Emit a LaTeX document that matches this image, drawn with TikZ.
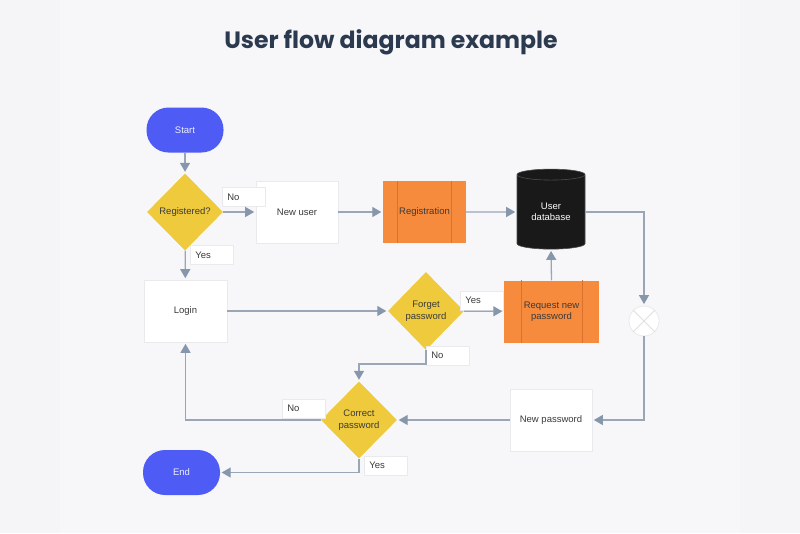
\documentclass[tikz,border=0pt]{standalone}
\usepackage{fontspec}
\setmainfont{Liberation Sans}
\newfontfamily\titlefont{Poppins}
\usetikzlibrary{arrows.meta,shapes.geometric,calc}
\definecolor{bgout}{HTML}{F5F5F8}
\definecolor{bgin}{HTML}{F7F7FA}
\definecolor{startblue}{HTML}{4F5BF5}
\definecolor{diayellow}{HTML}{EFCA3D}
\definecolor{regorange}{HTML}{F68B3E}
\definecolor{regline}{HTML}{D9722E}
\definecolor{linecol}{HTML}{9AA6B6}
\definecolor{tipcol}{HTML}{8797AB}
\definecolor{txt}{HTML}{3A3A3A}
\definecolor{titlecol}{HTML}{2C3A4F}
\definecolor{boxborder}{HTML}{E9E9EE}
\tikzset{
  every node/.style={font=\fontsize{9.5}{11.5}\selectfont, text=txt, align=center},
  terminal/.style={fill=startblue, rounded corners=22pt, minimum width=77pt, minimum height=45pt, text=white!90!startblue, inner sep=0pt},
  whitebox/.style={fill=white, draw=boxborder, line width=0.6pt, minimum width=82pt, minimum height=62pt, inner sep=0pt},
  orangebox/.style={fill=regorange, minimum height=62pt, inner sep=0pt},
  decision/.style={diamond, fill=diayellow, minimum width=76pt, minimum height=77pt, inner sep=0pt, aspect=1},
  lbl/.style={fill=white, draw=boxborder, line width=0.6pt, minimum width=43pt, minimum height=19pt, inner sep=0pt, text=txt, anchor=west, text width=33pt, align=left},
  flow/.style={draw=linecol, line width=1.3pt, -{Triangle[width=10pt,length=9pt,color=tipcol]}, shorten >=1.5pt},
}
\begin{document}
\begin{tikzpicture}[x=1pt,y=-1pt]
\fill[bgout] (0,0) rectangle (800,533);
\fill[bgin] (60,0) rectangle (740,533);
\useasboundingbox (0,0) rectangle (800,533);

\node[font=\titlefont\bfseries\fontsize{23.6}{27}\selectfont, text=titlecol] (title) at (391,42.5) {User flow diagram example};

% nodes
\node[terminal] (start) at (185,130) {Start};
\node[decision] (reg) at (185,212) {Registered?};
\node[whitebox] (newuser) at (297,212) {New user};
\node[orangebox, minimum width=83pt] (registration) at (424.5,212) {Registration};
\draw[regline, line width=0.7pt] ($(registration.north west)+(15,0)$) -- ($(registration.south west)+(15,0)$)
  ($(registration.north east)+(-15,0)$) -- ($(registration.south east)+(-15,0)$);
\node[cylinder, shape border rotate=90, aspect=0.28, minimum width=68pt, minimum height=80pt, fill=black!90, draw=black!70, line width=0.6pt, text=white, inner sep=0pt] (db) at (551,212) {User\\database};
\node[whitebox, minimum width=83pt] (login) at (185.5,311) {Login};
\node[decision, minimum height=78pt] (forget) at (426,311) {Forget\\password};
\node[orangebox, minimum width=95pt] (request) at (551.5,311.5) {Request new\\password};
\draw[regline, line width=0.7pt] ($(request.north west)+(18,0)$) -- ($(request.south west)+(18,0)$)
  ($(request.north east)+(-17,0)$) -- ($(request.south east)+(-17,0)$);
\node[circle, fill=white, draw=boxborder, line width=0.8pt, minimum size=30pt, inner sep=0pt] (merge) at (644,321) {};
\draw[black!12, line width=0.8pt] (merge.north east) -- (merge.south west) (merge.north west) -- (merge.south east);
\node[whitebox] (newpw) at (551,420) {New password};
\node[decision] (correct) at (359,420) {Correct\\password};
\node[terminal] (end) at (181.5,472.5) {End};

% labels
\node[lbl] (lno1) at (222,197) {No};
\node[lbl] (lyes1) at (190,255) {Yes};
\node[lbl] (lyes2) at (460,300.5) {Yes};
\node[lbl] (lno2) at (426,355.5) {No};
\node[lbl] (lno3) at (282,408.5) {No};
\node[lbl] (lyes3) at (364,465.5) {Yes};

% connectors
\path[flow] (start) -- (reg);
\path[flow] (reg) -- (newuser);
\path[flow] (newuser) -- (registration);
\path[flow] (registration) -- (db);
\path[flow] (db.east) -| (merge.north);
\path[flow] (merge.south) |- (newpw.east);
\path[flow] (newpw) -- (correct);
\path[flow] (reg) -- (login);
\path[flow] (login) -- (forget);
\path[flow] (forget) -- (request);
\path[flow] (request.north) -- (db.south);
\coordinate (fnoA) at (426,364);
\coordinate (fnoB) at (359,364);
\path[flow] (forget.south) -- (fnoA) -- (fnoB) -- (correct.north);
\path[flow] (correct.west) -| (login.south);
\path[flow] (correct.south) |- (end.east);
\end{tikzpicture}
\end{document}
